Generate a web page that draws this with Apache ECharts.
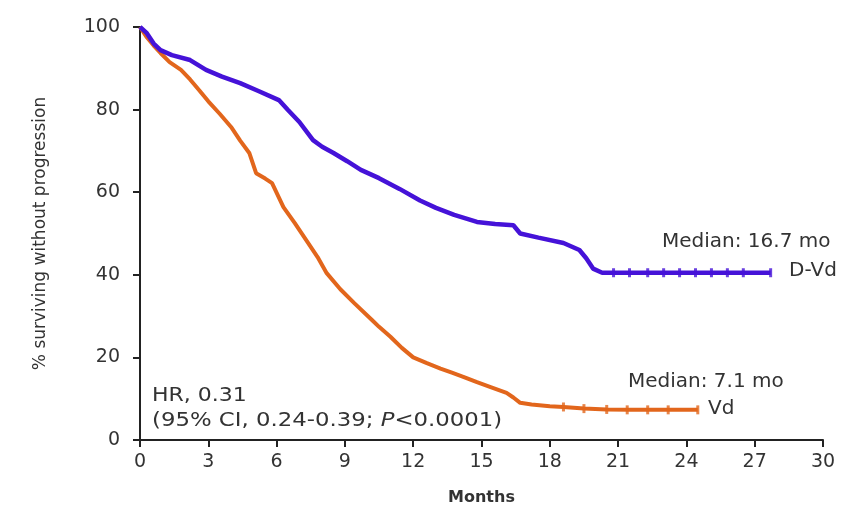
<!DOCTYPE html>
<html>
<head>
<meta charset="utf-8">
<script src="https://cdn.jsdelivr.net/npm/echarts@6/dist/echarts.min.js"></script>
<style>html,body{margin:0;padding:0;background:#fff}#c{width:866px;height:507px}</style>
</head>
<body>
<div id="c"></div>
<script>
// D-Vd (blue) Kaplan-Meier estimate: months, % surviving without progression
var dvdMonths = [0, 0.3, 0.6, 0.9, 1.4, 2.2, 2.9, 3.6, 4.4, 5.2, 6.1, 6.5, 7.0, 7.6, 8.0, 8.5, 9.1, 9.7, 10.5, 11.4, 12.3, 13.0, 13.8, 14.8, 15.6, 16.4, 16.7, 17.5, 18.6, 19.3, 19.6, 19.9, 20.3, 20.8, 22, 23, 24, 25, 26, 27, 27.7];
var dvdSurv   = [100, 98.5, 96, 94.4, 93.2, 92, 89.6, 88, 86.4, 84.5, 82.3, 79.9, 77, 72.6, 71, 69.5, 67.5, 65.4, 63.4, 60.8, 58, 56.2, 54.5, 52.8, 52.3, 52, 50, 49, 47.7, 46, 44, 41.5, 40.5, 40.5, 40.5, 40.5, 40.5, 40.5, 40.5, 40.5, 40.5];
// Vd (orange)
var vdMonths = [0, 0.3, 0.6, 0.9, 1.3, 1.8, 2.2, 2.6, 3.0, 3.5, 4.0, 4.4, 4.8, 5.1, 5.5, 5.8, 6.3, 6.8, 7.3, 7.8, 8.2, 8.8, 9.4, 10.2, 10.5, 11.0, 11.5, 12.0, 12.6, 13.2, 13.7, 14.2, 14.8, 15.4, 16.1, 16.4, 16.7, 17.2, 18.0, 18.6, 19.5, 20.5, 21.5, 22.5, 23.5, 24.5];
var vdSurv   = [100, 97.5, 95.5, 93.7, 91.5, 89.6, 87.3, 84.7, 82, 79, 75.8, 72.5, 69.5, 64.6, 63.3, 62.2, 56.4, 52.5, 48.4, 44.3, 40.4, 36.5, 33.2, 29, 27.4, 25, 22.3, 20, 18.6, 17.3, 16.3, 15.3, 14.0, 12.8, 11.4, 10.3, 9, 8.6, 8.2, 8, 7.6, 7.4, 7.3, 7.3, 7.3, 7.3];
// censor marks on the plateaus
var dvdCensorMonths = [20.8, 21.5, 22.3, 23.0, 23.7, 24.4, 25.1, 25.8, 26.5, 27.7];
var dvdCensorSurv = [40.5, 40.5, 40.5, 40.5, 40.5, 40.5, 40.5, 40.5, 40.5, 40.5];
var vdCensorMonths = [18.6, 19.5, 20.5, 21.4, 22.3, 23.2, 24.5];
var vdCensorSurv = [8, 7.6, 7.4, 7.3, 7.3, 7.3, 7.3];
var xTicks = [0, 3, 6, 9, 12, 15, 18, 21, 24, 27, 30];
var yTicks = [0, 20, 40, 60, 80, 100];

function pairs(xs, ys) { return xs.map(function (x, i) { return [x, ys[i]]; }); }

var BLUE = '#4512d8', ORANGE = '#e2661c', TXT = '#333333', FONT = 'DejaVu Sans';
var chart = echarts.init(document.getElementById('c'), null, {renderer: 'canvas'});
chart.setOption({
  animation: false,
  backgroundColor: '#fff',
  grid: {left: 140, right: 43, top: 27, bottom: 67, outerBoundsMode: 'none', containLabel: false},
  xAxis: {
    type: 'value', min: xTicks[0], max: xTicks[xTicks.length - 1], interval: 3,
    name: 'Months', nameLocation: 'middle', nameGap: 50,
    nameTextStyle: {fontFamily: FONT, fontSize: 16, fontWeight: 'bold', color: TXT},
    axisLine: {lineStyle: {color: '#222', width: 2}},
    axisTick: {show: true, length: 7, lineStyle: {color: '#222', width: 2}},
    axisLabel: {fontFamily: FONT, fontSize: 19, color: TXT, margin: 13},
    splitLine: {show: false}
  },
  yAxis: {
    type: 'value', min: yTicks[0], max: yTicks[yTicks.length - 1], interval: 20,
    name: '% surviving without progression', nameLocation: 'middle', nameGap: 91,
    nameTextStyle: {fontFamily: FONT, fontSize: 17, color: TXT},
    axisLine: {show: true, lineStyle: {color: '#222', width: 2}},
    axisTick: {show: true, length: 7, lineStyle: {color: '#222', width: 2}},
    axisLabel: {fontFamily: FONT, fontSize: 19, color: TXT, margin: 20},
    splitLine: {show: false}
  },
  series: [
    {type: 'line', name: 'Vd', showSymbol: false, data: pairs(vdMonths, vdSurv),
     lineStyle: {color: ORANGE, width: 4}, z: 2},
    {type: 'line', name: 'D-Vd', showSymbol: false, data: pairs(dvdMonths, dvdSurv),
     lineStyle: {color: BLUE, width: 4.5}, z: 3},
    {type: 'scatter', data: pairs(vdCensorMonths, vdCensorSurv), symbol: 'rect', symbolSize: [3, 9],
     itemStyle: {color: ORANGE}, z: 2},
    {type: 'scatter', data: pairs(dvdCensorMonths, dvdCensorSurv), symbol: 'rect', symbolSize: [3, 9],
     itemStyle: {color: BLUE}, z: 3}
  ],
  graphic: [
    {type: 'text', left: 662, top: 232, style: {text: 'Median: 16.7 mo', font: '20px "DejaVu Sans"', fill: TXT}},
    {type: 'text', left: 789, top: 261, style: {text: 'D-Vd', font: '20px "DejaVu Sans"', fill: TXT}},
    {type: 'text', left: 628, top: 372, style: {text: 'Median: 7.1 mo', font: '20px "DejaVu Sans"', fill: TXT}},
    {type: 'text', left: 708, top: 399, style: {text: 'Vd', font: '20px "DejaVu Sans"', fill: TXT}},
    {type: 'text', x: 152, y: 386, scaleX: 1.1, style: {text: 'HR, 0.31', font: '20px "DejaVu Sans"', fill: TXT}},
    {type: 'text', x: 152, y: 411, scaleX: 1.14, style: {
      text: '(95% CI, 0.24-0.39; {i|P}<0.0001)', font: '20px "DejaVu Sans"', fill: TXT,
      rich: {i: {fontStyle: 'italic', fontFamily: FONT, fontSize: 20, fill: TXT}}}}
  ]
});
</script>
</body>
</html>
